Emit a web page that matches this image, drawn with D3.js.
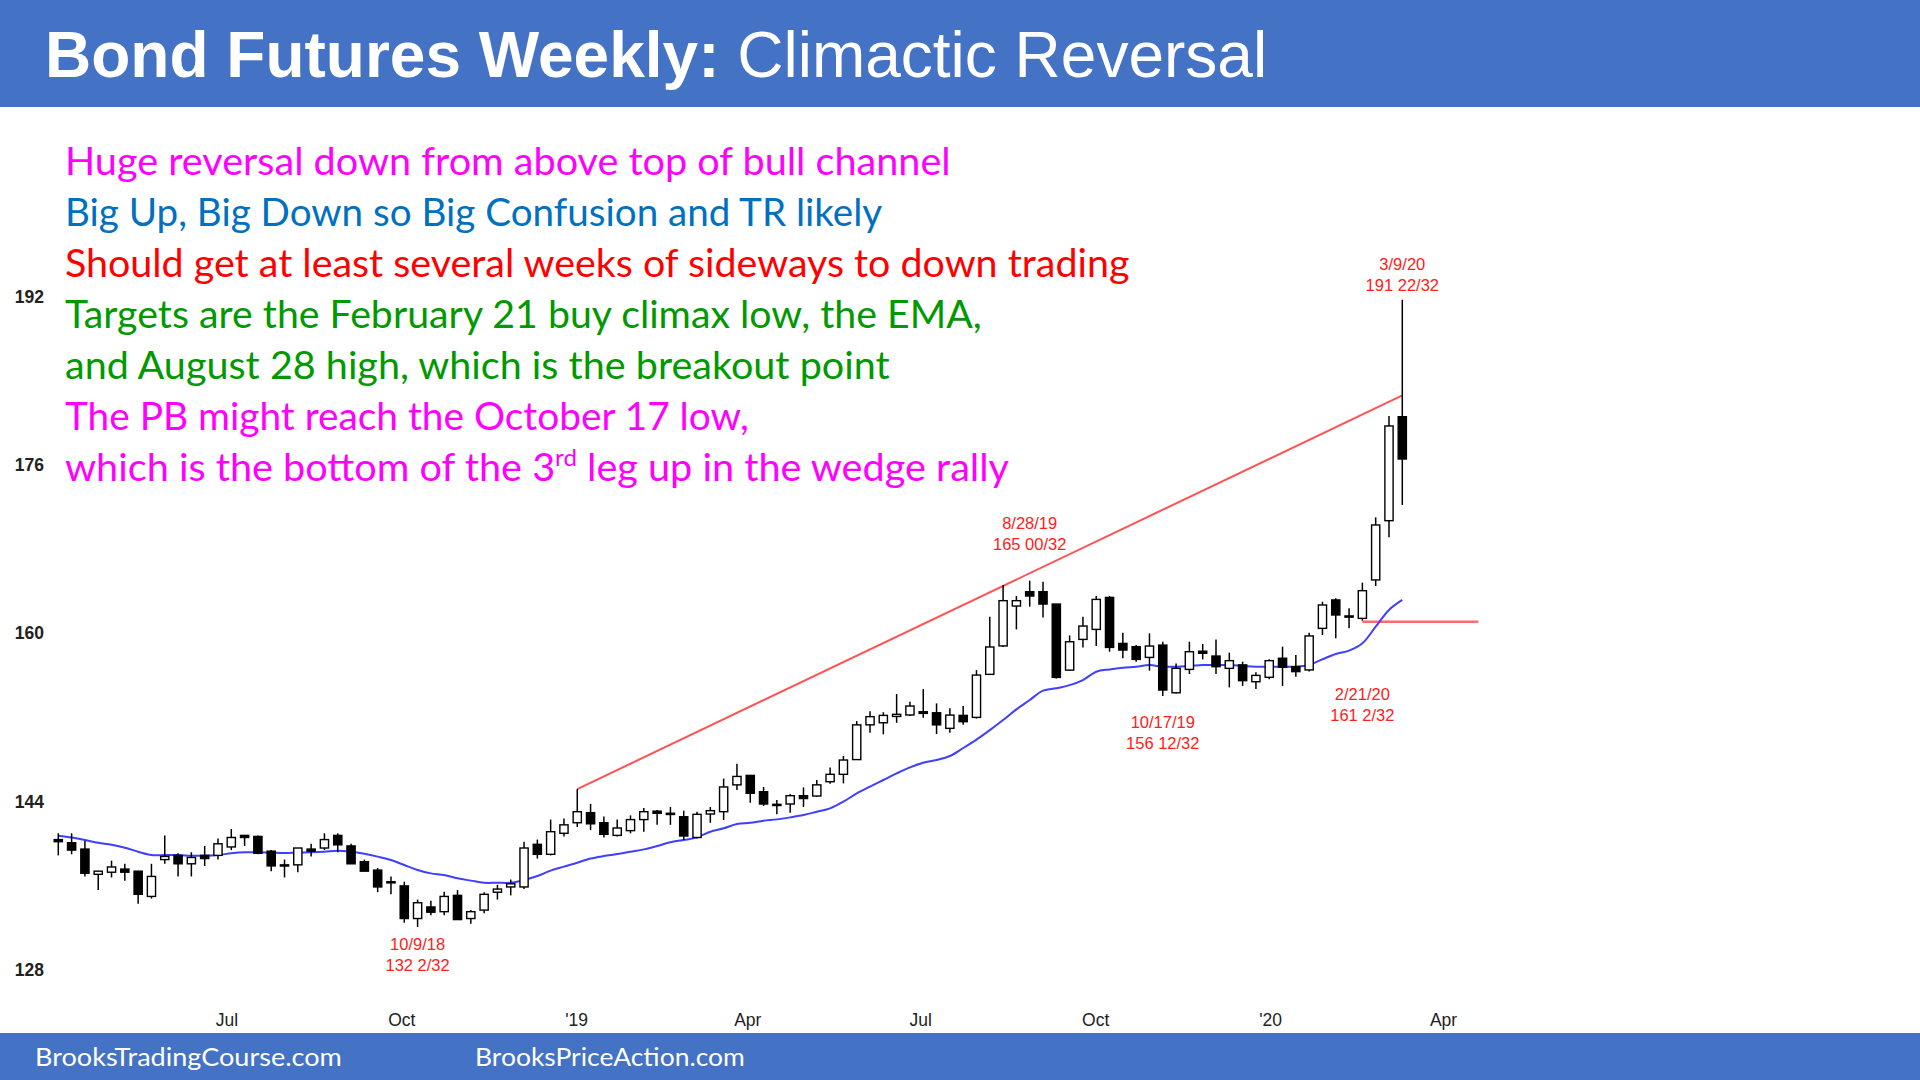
<!DOCTYPE html>
<html><head><meta charset="utf-8">
<script src="https://cdn.jsdelivr.net/npm/d3@7"></script>
<style>html,body{margin:0;padding:0;background:#fff;}svg{display:block}</style>
</head><body>
<svg id="chart" width="1920" height="1080"></svg>
<script>
// ---------------- DATA ----------------
const firstWeek = "2018-04-02";
const opens  = [140.4,140.1,139.5,137.1,137.3,137.6,137.4,135.0,138.5,138.9,138.1,138.9,138.9,139.7,140.8,140.7,139.3,138.0,138.0,139.5,
139.6,140.8,139.8,138.3,137.5,136.4,136.0,132.9,134.0,133.55,135.1,132.9,133.7,135.4,135.9,135.9,139.95,139.0,141.0,142.0,
142.96,142.0,140.8,141.25,142.3,143.1,142.9,142.57,140.6,142.83,143.05,145.6,146.5,144.95,143.75,143.78,144.57,144.54,145.9,146.6,
148.0,151.3,151.5,152.1,152.24,152.55,152.45,150.97,152.2,152.01,156.1,158.8,162.59,163.95,163.95,162.78,156.5,159.42,160.37,163.41,
159.04,158.73,157.71,158.88,154.35,156.57,158.3,157.84,156.67,157.0,155.4,155.82,157.63,156.83,156.52,160.47,163.17,161.65,161.42,165.07,
170.7,180.58];
const highs  = [141.0,141.0,140.3,137.4,138.4,138.1,137.4,138.1,140.8,139.1,139.2,139.8,140.5,141.4,140.8,140.8,139.4,138.5,139.6,140.0,
141.0,141.0,140.0,138.5,137.7,136.9,136.4,134.7,134.6,135.45,135.6,133.7,135.4,136.1,136.6,140.2,140.4,142.3,142.4,145.2,
143.8,142.6,142.3,142.7,143.4,143.2,143.5,143.15,143.05,143.5,146.2,147.6,146.5,145.4,144.16,144.73,145.36,146.06,147.26,148.34,
151.66,152.6,152.5,154.23,153.5,154.7,153.34,152.87,153.1,156.5,161.58,164.6,163.54,165.0,164.9,162.78,159.8,161.58,163.54,163.54,
160.06,158.88,160.0,159.2,157.14,159.2,158.98,159.42,158.16,157.3,156.3,157.53,158.73,157.94,160.06,163.0,163.33,162.37,164.81,171.02,
180.65,191.69];
const lows   = [138.9,139.0,136.9,135.6,136.8,136.5,134.3,134.8,138.1,136.9,136.9,137.9,138.5,139.4,139.8,139.0,137.4,136.8,137.3,138.8,
139.4,139.2,138.1,137.4,135.4,135.2,132.5,132.1,133.2,133.2,132.8,132.4,133.4,134.7,135.1,135.7,138.6,138.9,140.7,141.6,
141.3,140.6,140.7,141.0,141.15,141.8,141.8,140.36,140.5,142.0,142.26,145.1,143.9,143.6,142.8,142.95,143.5,144.47,145.7,145.74,
147.96,150.56,150.4,151.5,152.14,151.98,150.43,150.56,151.3,151.9,156.03,158.7,160.37,162.53,161.51,155.7,156.45,158.66,158.79,158.25,
157.62,157.3,156.45,154.04,154.29,156.13,157.52,156.13,154.86,155.0,154.7,155.63,155.0,155.88,156.36,159.84,159.52,160.47,161.2,164.49,
169.12,172.19];
const closes = [140.2,139.4,137.2,137.4,137.8,137.3,135.2,136.9,138.8,138.1,138.7,138.6,140.0,140.6,140.6,139.1,137.9,137.9,139.6,139.3,
140.4,139.9,138.1,137.4,135.9,136.3,132.9,134.4,133.5,135.0,132.8,133.55,135.2,135.7,136.2,139.6,139.0,141.15,141.8,143.05,
141.9,140.9,141.5,142.3,143.05,142.9,142.8,140.74,142.8,143.15,145.4,146.4,144.8,143.78,143.7,144.57,144.3,145.6,146.6,147.96,
151.3,152.08,152.2,152.3,153.09,152.39,151.3,152.23,151.6,156.03,158.7,163.1,163.1,163.54,162.78,155.81,159.2,160.69,163.22,158.66,
158.41,157.52,158.79,154.61,156.67,158.25,158.1,156.83,157.4,155.5,156.0,157.4,156.77,156.36,159.75,162.69,161.74,161.6,164.05,170.29,
179.7,176.56];
const emaValues = [140.77,140.6,140.36,140.1,139.9,139.63,139.25,138.93,138.93,138.93,138.87,138.87,138.93,139.1,139.2,139.2,139.16,139.12,139.16,139.19,
139.25,139.35,139.25,139.05,138.78,138.46,137.98,137.51,137.19,137.03,136.72,136.5,136.3,136.3,136.3,136.56,136.94,137.45,137.83,138.2,
138.6,138.84,139.03,139.25,139.47,139.79,140.15,140.36,140.61,141.15,141.47,141.88,142.0,142.19,142.32,142.51,142.73,143.05,143.37,144.0,
144.79,145.43,146.06,146.69,147.26,147.7,147.96,148.34,149.1,149.9,150.8,151.76,152.77,153.66,154.55,154.77,155.08,155.56,156.35,156.57,
156.73,156.83,156.98,156.83,156.83,156.89,156.98,156.98,156.98,156.9,156.83,156.83,156.83,156.83,156.99,157.53,158.04,158.35,159.05,160.63,
162.22,163.17];
const yTickValues = [128,144,160,176,192];
const xTickDates  = ["2018-07-01","2018-10-01","2019-01-01","2019-04-01","2019-07-01","2019-10-01","2020-01-01","2020-04-01"];
const xTickLabels = ["Jul","Oct","'19","Apr","Jul","Oct","'20","Apr"];
const wedgeLine   = [{date:"2018-12-31",price:145.2},{date:"2020-03-09",price:182.6}];
const supportLine = [{date:"2020-02-17",price:161.1},{date:"2020-04-18",price:161.1}];
const calloutDates = ["2018-10-08","2019-08-26","2019-11-04","2020-02-17","2020-03-09"];
const calloutLines = [["10/9/18","132 2/32"],["8/28/19","165 00/32"],["10/17/19","156 12/32"],["2/21/20","161 2/32"],["3/9/20","191 22/32"]];
const titleBold = "Bond Futures Weekly:";
const titleRest = "Climactic Reversal";
const noteLines = [
  ["Huge reversal down from above top of bull channel"],
  ["Big Up, Big Down so Big Confusion and TR likely"],
  ["Should get at least several weeks of sideways to down trading"],
  ["Targets are the February 21 buy climax low, the EMA,"],
  ["and August 28 high, which is the breakout point"],
  ["The PB might reach the October 17 low,"],
  ["which is the bottom of the 3","rd"," leg up in the wedge rally"]
];
const footerTexts = ["BrooksTradingCourse.com","BrooksPriceAction.com"];

// ---------------- LAYOUT / STYLE ----------------
const W = 1920, H = 1080;
const bandColor = "#4472C4";
const noteColors = ["#ff00ff","#0070c0","#ff0000","#009900","#009900","#ff00ff","#ff00ff"];
const noteRight = [951,883,1130,982,890,749,1010];
const calloutAnchor = ["low","high","low","low","high"];
const calloutOffset = [23,-52,32,79,-30];
const bodyFont = "Lato, 'Open Sans', sans-serif";
const arial = "'Liberation Sans', Arial, sans-serif";

function draw(){
  const svg = d3.select("#chart");
  const parse = d3.utcParse("%Y-%m-%d");
  const start = parse(firstWeek);
  const bars = opens.map((o,i)=>({date:d3.utcDay.offset(start,7*i),o,h:highs[i],l:lows[i],c:closes[i],ema:emaValues[i]}));

  const x = d3.scaleUtc().domain([bars[0].date, bars[bars.length-1].date]).range([58.3, 1402.3]);
  const y = d3.scaleLinear().domain([128,192]).range([970.1, 296.5]);

  // banners
  svg.append("rect").attr("x",0).attr("y",0).attr("width",W).attr("height",107).attr("fill",bandColor);
  svg.append("rect").attr("x",0).attr("y",1033).attr("width",W).attr("height",H-1033).attr("fill",bandColor);

  const title = svg.append("text").attr("x",45).attr("y",77).attr("fill","#fff")
    .style("font-family",arial).style("font-size","64px");
  title.append("tspan").attr("font-weight","bold").text(titleBold);
  title.append("tspan").text(" " + titleRest);

  // footer
  const footX = [35,475], footW=[307,270];
  footerTexts.forEach((t,i)=>{
    const el = svg.append("text").attr("fill","#fff").style("font-family",bodyFont).style("font-size","25.5px").text(t);
    const w = el.node().getComputedTextLength();
    el.attr("transform",`translate(${footX[i]},1066) scale(${footW[i]/w},1)`);
  });

  // notes
  noteLines.forEach((parts,i)=>{
    const el = svg.append("text").attr("fill",noteColors[i]).style("font-family",bodyFont).style("font-size","39.5px");
    if(parts.length===1){ el.text(parts[0]); }
    else {
      el.append("tspan").text(parts[0]);
      el.append("tspan").attr("dy",-15).style("font-size","24px").text(parts[1]);
      el.append("tspan").attr("dy",15).text(parts[2]);
    }
    const w = el.node().getBBox().width;
    el.attr("transform",`translate(65,${175+51*i}) scale(${(noteRight[i]-65)/w},1)`);
  });

  // axes
  const yAxis = d3.axisLeft(y).tickValues(yTickValues).tickSize(0).tickPadding(0).tickFormat(d3.format("d"));
  const gy = svg.append("g").attr("transform","translate(44,0)").call(yAxis);
  gy.select(".domain").remove();
  gy.selectAll("text").style("font-family",arial).style("font-size","17.5px").style("font-weight","bold").attr("fill","#222");

  const tickDates = xTickDates.map(parse);
  const xAxis = d3.axisBottom(x).tickValues(tickDates).tickSize(0).tickPadding(0)
    .tickFormat((d,i)=>xTickLabels[i]);
  const gx = svg.append("g").attr("transform","translate(-3,1026)").call(xAxis);
  gx.select(".domain").remove();
  gx.selectAll("text").attr("y",0).attr("dy",0).style("font-family",arial).style("font-size","17.5px").attr("fill","#222");

  // trend lines
  const lineGen = d3.line().x(d=>x(parse(d.date))).y(d=>y(d.price));
  svg.append("path").datum(wedgeLine).attr("d",lineGen).attr("fill","none").attr("stroke","#ff5252").attr("stroke-width",2);
  svg.append("path").datum(supportLine).attr("d",lineGen).attr("fill","none").attr("stroke","#ff6a6a").attr("stroke-width",2.6);

  // EMA
  const emaGen = d3.line().x(d=>x(d.date)).y(d=>y(d.ema)).curve(d3.curveCatmullRom);
  svg.append("path").datum(bars).attr("d",emaGen).attr("fill","none").attr("stroke","#3f3fff").attr("stroke-width",2);

  // candles
  const g = svg.append("g");
  const bw = 8.2;
  g.selectAll("line.wick").data(bars).join("line").attr("class","wick")
    .attr("x1",d=>x(d.date)).attr("x2",d=>x(d.date))
    .attr("y1",d=>y(d.h)).attr("y2",d=>y(d.l))
    .attr("stroke","#000").attr("stroke-width",1.5);
  g.selectAll("rect.body").data(bars).join("rect").attr("class","body")
    .attr("x",d=>x(d.date)-bw/2).attr("width",bw)
    .attr("y",d=>Math.min(y(d.o),y(d.c)))
    .attr("height",d=>Math.max(Math.abs(y(d.o)-y(d.c)),1.2))
    .attr("fill",d=>d.c>=d.o?"#fff":"#000")
    .attr("stroke","#000").attr("stroke-width",1.4);

  // callouts
  calloutDates.forEach((ds,i)=>{
    const b = bars.find(d=>+d.date===+parse(ds));
    const base = (calloutAnchor[i]==="high"? y(b.h): y(b.l)) + calloutOffset[i];
    calloutLines[i].forEach((t,j)=>{
      svg.append("text").attr("x",x(b.date)).attr("y",base+21*j).attr("text-anchor","middle")
        .attr("fill","#ff2020").style("font-family",arial).style("font-size","16.5px").text(t);
    });
  });
}
if(document.fonts && document.fonts.ready){ document.fonts.ready.then(draw); } else { draw(); }
</script>
</body></html>
